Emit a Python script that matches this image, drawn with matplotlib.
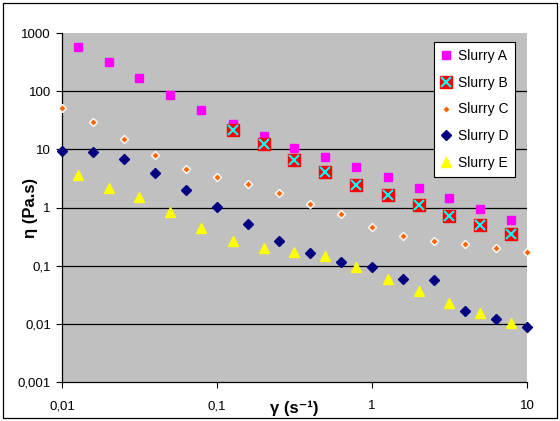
import matplotlib
matplotlib.use("Agg")
import matplotlib.pyplot as plt
from matplotlib.patches import Rectangle
import numpy as np

# shear rates
x_a = [0.0126, 0.02, 0.0316, 0.05, 0.0794, 0.126, 0.2, 0.316, 0.5, 0.794, 1.26, 2.0, 3.16, 5.0, 7.94]
x_b = [0.126, 0.2, 0.316, 0.5, 0.794, 1.26, 2.0, 3.16, 5.0, 7.94]
x_c = [0.01, 0.0158, 0.0251, 0.0398, 0.0631, 0.1, 0.158, 0.251, 0.398, 0.631, 1.0, 1.58, 2.51, 3.98, 6.31, 10.0]
x_d = [0.01, 0.0158, 0.0251, 0.0398, 0.0631, 0.1, 0.158, 0.251, 0.398, 0.631, 1.0, 1.58, 2.51, 3.98, 6.31, 10.0]
x_e = [0.0126, 0.02, 0.0316, 0.05, 0.0794, 0.126, 0.2, 0.316, 0.5, 0.794, 1.26, 2.0, 3.16, 5.0, 7.94]

# viscosities
y_a = [580, 313, 168, 86, 47.5, 27, 17, 10.4, 7.5, 5.0, 3.4, 2.2, 1.47, 0.94, 0.61]
y_b = [21.5, 12.2, 6.5, 4.0, 2.45, 1.65, 1.1, 0.71, 0.51, 0.35]
y_c = [51, 29, 15, 8.1, 4.6, 3.3, 2.5, 1.8, 1.16, 0.77, 0.47, 0.32, 0.27, 0.24, 0.20, 0.17]
y_d = [9.5, 8.9, 6.9, 3.9, 2.0, 1.02, 0.53, 0.27, 0.163, 0.117, 0.094, 0.060, 0.056, 0.0168, 0.012, 0.0089]
y_e = [3.6, 2.2, 1.5, 0.85, 0.44, 0.27, 0.20, 0.17, 0.147, 0.094, 0.059, 0.036, 0.023, 0.0156, 0.0105]

labels = ["Slurry A", "Slurry B", "Slurry C", "Slurry D", "Slurry E"]
yticks = [0.001, 0.01, 0.1, 1, 10, 100, 1000]
ytick_labels = ["0,001", "0,01", "0,1", "1", "10", "100", "1000"]
xticks = [0.01, 0.1, 1, 10]
xtick_labels = ["0,01", "0,1", "1", "10"]

plt.rcParams['font.family'] = ['Liberation Sans', 'DejaVu Sans']

fig = plt.figure(figsize=(5.6, 4.21), dpi=100)
ax = fig.add_axes([62/560, 1-382/421, (527-62)/560, (382-33)/421])
ax.set_facecolor('#C0C0C0')
ax.set_xscale('log')
ax.set_yscale('log')
ax.set_xlim(0.01, 10)
ax.set_ylim(0.001, 1000)

for yv in yticks[1:-1]:
    ax.axhline(yv, color='black', lw=0.9, zorder=1)

ha, = ax.plot(x_a, y_a, ls='none', marker='s', ms=6, mfc='#FF00FF', mec='#FF00FF', zorder=3, clip_on=False)
hb, = ax.plot(x_b, y_b, ls='none', marker='s', ms=9, mfc='#FF0000', mec='#FF0000', zorder=4, clip_on=False)
hx, = ax.plot(x_b, y_b, ls='none', marker='x', ms=6.5, mew=1.5, color='#00FFFF', zorder=5, clip_on=False)
hc, = ax.plot(x_c, y_c, ls='none', marker='D', ms=3.8, mfc='#FF6600', mec='white', mew=1.0, zorder=3, clip_on=False)
hd, = ax.plot(x_d, y_d, ls='none', marker='D', ms=5.2, mfc='#000080', mec='#000080', zorder=3, clip_on=False)
he, = ax.plot(x_e, y_e, ls='none', marker='^', ms=7.5, mfc='#FFFF00', mec='#FFFF00', zorder=3, clip_on=False)

leg = ax.legend([ha, (hb, hx), hc, hd, he], labels, loc='upper right',
                bbox_to_anchor=(1 - 12/465, 1 - 9/349), fontsize=10,
                frameon=True, fancybox=False, framealpha=1, edgecolor='black',
                handlelength=0.8, handletextpad=0.4, labelspacing=0.92,
                borderpad=0.5, borderaxespad=0)
leg.get_frame().set_linewidth(0.8)

ax.spines['top'].set_visible(False)
ax.spines['right'].set_visible(False)
ax.spines['left'].set_linewidth(0.9)
ax.spines['bottom'].set_linewidth(0.9)

ax.set_xticks(xticks)
ax.set_xticklabels(xtick_labels)
ax.set_yticks(yticks)
ax.set_yticklabels(ytick_labels)
ax.minorticks_off()
ax.tick_params(axis='both', direction='out', length=4, width=0.8, labelsize=9.5, colors='black')
ax.tick_params(axis='x', pad=9)
ax.tick_params(axis='y', pad=4)

fig.text(294/560, 1 - 408/421, 'γ (s⁻¹)', fontsize=12, fontweight='bold', ha='center', va='center')
fig.text(30/560, 1 - 208/421, 'η (Pa.s)', fontsize=12, fontweight='bold', ha='center', va='center', rotation=90)

fig.patches.append(Rectangle((3/560, 3/421), 554/560, 415/421, transform=fig.transFigure,
                             fill=False, edgecolor='black', lw=0.9))

fig.savefig('out.png', dpi=100)
